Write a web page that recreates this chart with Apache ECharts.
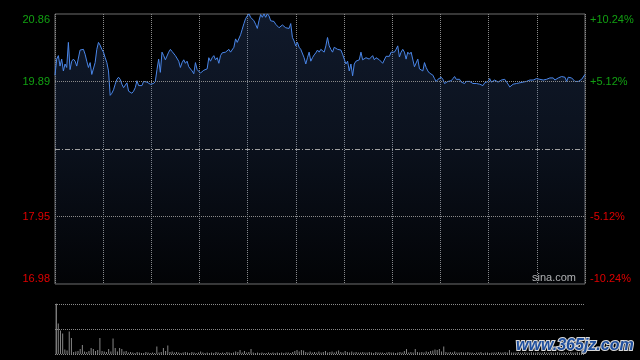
<!DOCTYPE html>
<html><head><meta charset="utf-8">
<script src="https://cdn.jsdelivr.net/npm/echarts@6/dist/echarts.min.js"></script>
<style>html,body{margin:0;padding:0;background:#000}#c{width:640px;height:360px}</style>
</head><body><div id="c"></div>
<script>
// previous close and percent ticks
const preClose = 18.92;
const pctTicks = [-10.24, -5.12, 0, 5.12, 10.24];

// intraday price samples, four stretches of the session
const priceSeg1 = [19.98,20.21,20.26,20.11,20.21,20.04,20.14,20.09,20.45,20.06,
  20.18,20.21,20.18,20.11,20.10,20.34,20.34,20.35,20.28,20.18,
  20.09,20.16,19.99,19.98,20.16,20.35,20.45,20.41,20.35,20.31,
  20.23,20.16,20.04,19.69,19.72,19.77,19.85,19.92,19.95,19.92,
  19.85,19.80,19.82,19.87,19.75,19.75,19.72,19.75,19.80,19.90,
  19.83,19.82,19.83,19.89,19.89,19.88,19.89,19.85,19.87,19.86,
  19.89,20.06,20.21,20.02,20.31,20.26,20.20,20.21,20.31,20.35,
  20.32,20.30,20.26,20.26,20.18,20.09,20.16,20.20,20.15,20.18,
  20.10];
const priceSeg2 = [20.09,20.04,20.00,20.16,20.06,20.04,20.01,20.02,20.05,20.05,
  20.07,20.23,20.18,20.23,20.26,20.20,20.23,20.15,20.26,20.30,
  20.31,20.31,20.31,20.35,20.31,20.31,20.38,20.50,20.45,20.45,
  20.56,20.64,20.72,20.79,20.83,20.86,20.81,20.80,20.76,20.71,
  20.65,20.76,20.85,20.81,20.86,20.81,20.86,20.83,20.76,20.75,
  20.75,20.71,20.69,20.66,20.66,20.70,20.71,20.66,20.65,20.65,
  20.72,20.52,20.47,20.40,20.45,20.38,20.35,20.35,20.23,20.14,
  20.23,20.31,20.18,20.23,20.27,20.30,20.34,20.31,20.35,20.34,
  20.31];
const priceSeg3 = [20.40,20.52,20.40,20.35,20.31,20.38,20.40,20.35,20.35,20.34,
  20.28,20.21,20.14,20.18,20.04,20.14,19.97,20.14,20.18,20.20,
  20.20,20.31,20.20,20.21,20.23,20.25,20.21,20.21,20.26,20.20,
  20.23,20.21,20.20,20.20,20.15,20.15,20.25,20.25,20.25,20.31,
  20.33,20.31,20.35,20.40,20.24,20.31,20.35,20.31,20.21,20.31,
  20.28,20.31,20.31,20.10,20.11,20.21,20.07,20.09,20.04,20.16,
  20.09,20.04,20.01,19.99,19.98,19.93,19.89,19.92,19.94,19.95,
  19.92,19.86,19.86,19.89,19.91,19.90,19.93,19.96,19.92,19.94,
  19.92];
const priceSeg4 = [19.88,19.86,19.86,19.89,19.89,19.89,19.87,19.86,19.86,19.86,
  19.87,19.85,19.86,19.83,19.87,19.89,19.89,19.93,19.88,19.89,
  19.91,19.89,19.88,19.89,19.91,19.92,19.92,19.91,19.85,19.81,
  19.82,19.85,19.86,19.86,19.87,19.87,19.88,19.88,19.89,19.89,
  19.91,19.91,19.91,19.91,19.92,19.93,19.91,19.92,19.91,19.91,
  19.91,19.92,19.93,19.94,19.94,19.94,19.91,19.92,19.94,19.96,
  19.96,19.96,19.95,19.89,19.95,19.95,19.94,19.94,19.89,19.89,
  19.89,19.91,19.92,19.92,19.99];

// per-minute volume, relative to the largest bar (=100)
const volumes = [100,61,47,41,9,7,45,32,4,5,
  6,10,18,5,4,6,12,10,6,8,
  32,6,5,4,10,5,31,12,5,12,
  10,5,6,3,4,3,2,4,3,2,
  2,4,3,2,3,2,15,3,4,12,
  6,17,4,5,3,4,3,2,3,4,
  3,2,4,3,2,3,5,3,2,3,
  2,3,2,4,3,2,3,2,4,3,
  2,3,5,4,8,3,6,3,4,10,
  3,2,3,2,3,2,2,3,2,3,
  2,3,2,3,2,3,3,2,4,6,
  8,5,8,7,4,3,5,3,4,3,
  5,3,4,6,3,4,5,3,5,7,
  4,3,6,4,3,5,3,4,3,3,
  4,3,3,4,3,2,4,3,3,3,
  2,3,4,3,3,2,3,4,3,6,
  10,3,4,3,10,4,3,4,3,5,
  4,6,7,9,8,10,5,15,4,3,
  4,3,5,3,3,4,3,3,4,3,
  3,2,3,3,4,2,3,3,2,3,
  3,3,4,3,3,4,3,8,3,3,
  3,4,3,3,4,3,3,4,3,3,
  4,3,3,4,3,3,4,3,3,4,
  3,3,4,3,3,4,3,3,4,3,
  4,5];

const prices = priceSeg1.concat(priceSeg2, priceSeg3, priceSeg4);
const N = prices.length;
const pctData = prices.map((p, i) => [i, (p / preClose - 1) * 100]);
const volData = volumes.map((v, i) => [i, v]);

const GREEN = '#12a012', RED = '#e00000';
const labelColor = v => (v > 0.001 ? GREEN : (v < -0.001 ? RED : 'transparent'));
const FONT = '"Liberation Sans", Arial, sans-serif';

const chart = echarts.init(document.getElementById('c'), null, {renderer: 'canvas'});
chart.setOption({
  backgroundColor: '#000',
  animation: false,
  grid: [
    {left: 55, top: 14, width: 530, height: 270, show: true, borderColor: '#6e6e6e', borderWidth: 1, backgroundColor: 'transparent'},
    {left: 55, top: 304, width: 530, height: 50, show: false}
  ],
  xAxis: [
    {gridIndex: 0, type: 'value', min: 0, max: N - 1, interval: (N - 1) / 11,
      axisLine: {show: false}, axisTick: {show: false}, axisLabel: {show: false},
      splitLine: {show: true, lineStyle: {color: '#8a8a8a', type: [1, 1], width: 1}}},
    {gridIndex: 1, type: 'value', min: -0.5, max: volumes.length - 0.5,
      axisLine: {show: false}, axisTick: {show: false}, axisLabel: {show: false}, splitLine: {show: false}}
  ],
  yAxis: [
    {gridIndex: 0, type: 'value', position: 'left', min: pctTicks[0], max: pctTicks[4], interval: 5.12,
      axisLine: {show: false}, axisTick: {show: false}, splitLine: {show: false},
      axisLabel: {margin: 5, fontSize: 11, fontFamily: FONT,
        color: v => labelColor(v),
        verticalAlignMaxLabel: 'top', verticalAlignMinLabel: 'bottom',
        formatter: v => Math.abs(v) < 0.001 ? '' : (preClose * (1 + v / 100)).toFixed(2)}},
    {gridIndex: 0, type: 'value', position: 'right', min: pctTicks[0], max: pctTicks[4], interval: 5.12,
      axisLine: {show: false}, axisTick: {show: false}, splitLine: {show: false},
      axisLabel: {margin: 5, fontSize: 11, fontFamily: FONT,
        color: v => labelColor(v),
        verticalAlignMaxLabel: 'top', verticalAlignMinLabel: 'bottom',
        formatter: v => Math.abs(v) < 0.001 ? '' : (v > 0 ? '+' : '') + v.toFixed(2) + '%'}},
    {gridIndex: 1, type: 'value', position: 'right', min: 0, max: 100, interval: 50,
      axisLine: {show: true, lineStyle: {color: '#6e6e6e', width: 1}}, axisTick: {show: false}, axisLabel: {show: false},
      splitLine: {show: true, lineStyle: {color: '#8a8a8a', type: [1, 1], width: 1}}}
  ],
  series: [
    {type: 'line', xAxisIndex: 0, yAxisIndex: 0, data: pctData, showSymbol: false, symbol: 'none',
      lineStyle: {color: '#4a86e8', width: 1},
      areaStyle: {origin: 'start', color: new echarts.graphic.LinearGradient(0, 0, 0, 1, [
        {offset: 0, color: 'rgba(60,95,160,0.38)'},
        {offset: 0.45, color: 'rgba(60,95,160,0.27)'},
        {offset: 1, color: 'rgba(60,95,160,0.05)'}])},
      markLine: {silent: true, symbol: 'none', label: {show: false},
        lineStyle: {color: '#8a8a8a', type: [1, 1], width: 1},
        data: [{yAxis: pctTicks[3]}, {yAxis: pctTicks[1]},
          {yAxis: pctTicks[2], lineStyle: {color: '#a0a0a0', type: [5, 2, 1, 2], width: 1}}]}},
    {type: 'bar', xAxisIndex: 1, yAxisIndex: 2, data: volData, barWidth: 1, itemStyle: {color: '#858585'}}
  ],
  graphic: [
    {type: 'text', left: 532, top: 272, style: {text: 'sina.com', fill: '#b4b4b4', font: '11px ' + FONT}},
    {type: 'text', left: 515, top: 337, style: {text: 'www.365jz.com', fill: '#1f4f9e', stroke: '#d8d8d8', lineWidth: 2,
      font: 'italic bold 16px ' + FONT}}
  ]
});
</script>
</body></html>
